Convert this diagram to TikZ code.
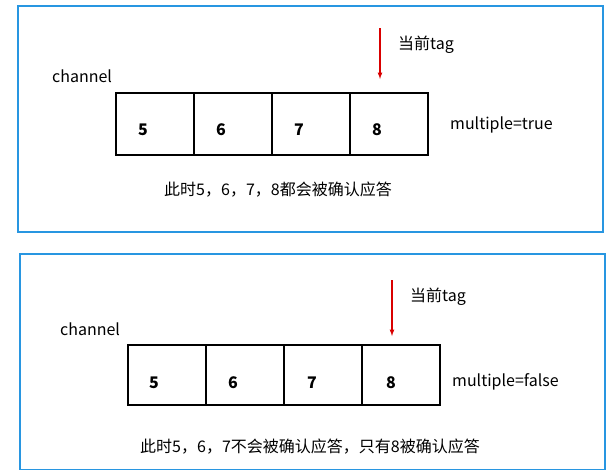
\documentclass[tikz,border=0pt]{standalone}
\usepackage{fontspec}
\setmainfont{Noto Sans CJK SC}
\definecolor{panelblue}{RGB}{40,150,225}
\begin{document}
\begin{tikzpicture}[x=1pt,y=-1pt,
  panel/.style={draw=panelblue,line width=2.2pt},
  cell/.style={draw=black,line width=1.3pt,minimum width=78pt,minimum height=62pt,inner sep=0pt},
  num/.style={font=\bfseries\fontsize{16}{18}\selectfont},
  lbl/.style={font=\fontsize{16}{18}\selectfont,inner sep=0pt},
  tagarrow/.style={draw=red!85!black,line width=1.2pt,-latex}]
\useasboundingbox (0,0) rectangle (615,469);
\draw[panel] (18,6) rectangle (603,232);
\draw[panel] (20,254) rectangle (605,470);
% top
\foreach \i/\n in {0/5,1/6,2/7,3/8}{
  \node[cell] (t\n) at (155+\i*78,124) {};
  \node[num] (tn\n) at (143+\i*78,130) {\n};
}
\node[lbl,anchor=west] (tch) at (52,76) {channel};
\node[lbl,anchor=west] (tmul) at (450,125) {multiple=true};
\coordinate (ta) at (380,28);
\coordinate (tb) at (380,79);
\draw[tagarrow] (ta) -- (tb);
\node[lbl,anchor=west] (ttag) at (398,45) {当前tag};
\node[lbl] (tcap) at (278,190) {此时5，6，7，8都会被确认应答};
% bottom
\foreach \i/\n in {0/5,1/6,2/7,3/8}{
  \node[cell,minimum height=60pt] (b\n) at (167+\i*78,375) {};
  \node[num] (bn\n) at (154+\i*79,383) {\n};
}
\node[lbl,anchor=west] (bch) at (60,329) {channel};
\node[lbl,anchor=west] (bmul) at (452,382) {multiple=false};
\coordinate (ba) at (392,280);
\coordinate (bb) at (392,336);
\draw[tagarrow] (ba) -- (bb);
\node[lbl,anchor=west] (btag) at (410,297) {当前tag};
\node[lbl] (bcap) at (310,447) {此时5，6，7不会被确认应答，只有8被确认应答};
\end{tikzpicture}
\end{document}
